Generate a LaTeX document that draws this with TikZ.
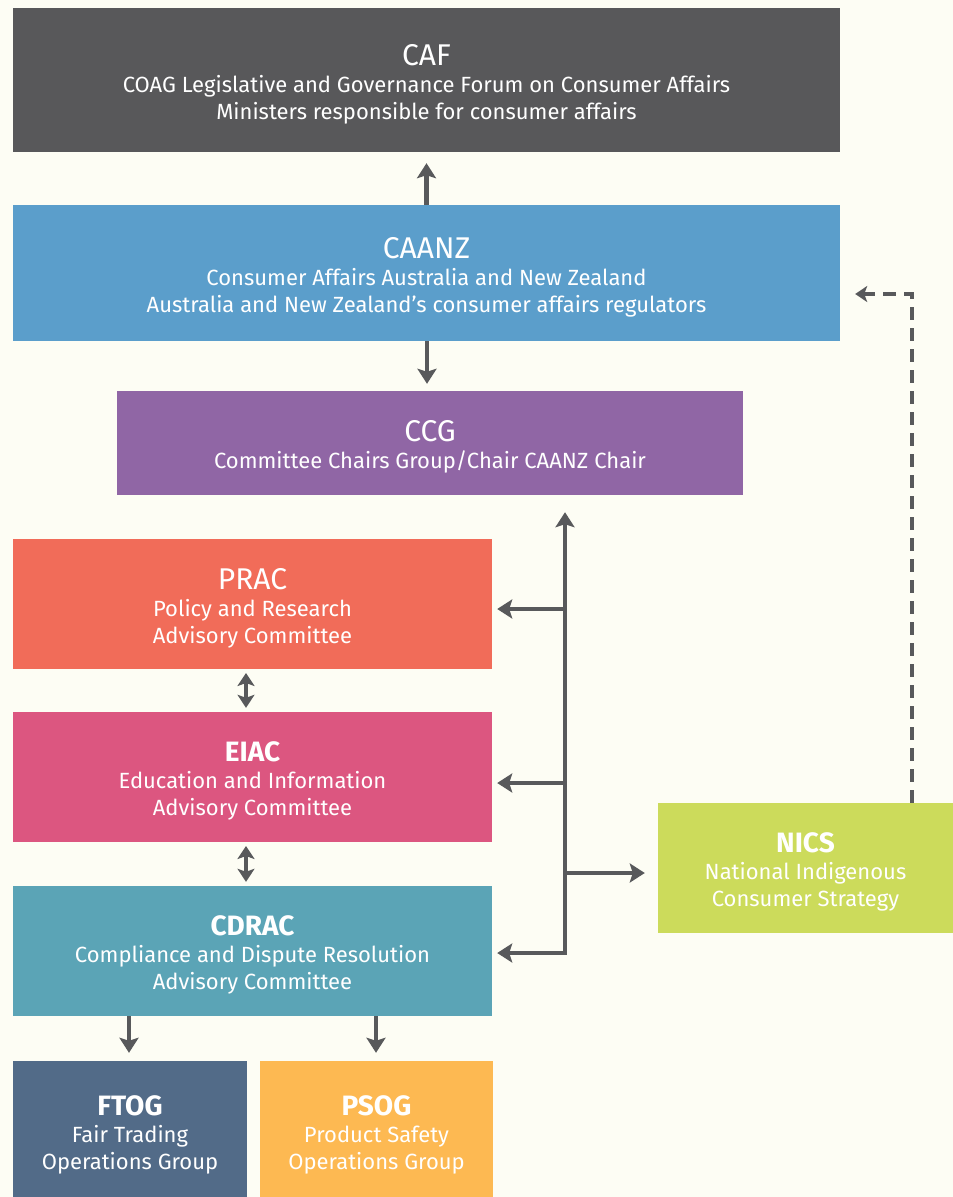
\documentclass[tikz,border=0pt]{standalone}
\usepackage{fontspec}
\setmainfont{Fira Sans}
\usetikzlibrary{arrows.meta}
\definecolor{bg}{HTML}{FDFDF4}
\definecolor{cafc}{HTML}{58585A}
\definecolor{caanzc}{HTML}{5B9ECB}
\definecolor{ccgc}{HTML}{9066A5}
\definecolor{pracc}{HTML}{F16C59}
\definecolor{eiacc}{HTML}{DC5680}
\definecolor{cdracc}{HTML}{5BA4B6}
\definecolor{nicsc}{HTML}{CCDB5B}
\definecolor{ftogc}{HTML}{526B88}
\definecolor{psogc}{HTML}{FDB952}
\definecolor{arrc}{HTML}{58595B}
\begin{document}
\begin{tikzpicture}[x=1pt,y=-1pt,
  box/.style={rectangle, inner sep=0pt, text=white, align=center,
    font=\fontsize{22}{27}\selectfont},
  conn/.style={draw=arrc, line width=4.5pt, -{Stealth[length=15pt,width=19pt,inset=3pt]}, line join=miter},
  dconn/.style={draw=arrc, line width=4.5pt, {Stealth[length=13pt,width=17pt,inset=3pt]}-{Stealth[length=13pt,width=17pt,inset=3pt]}},
  dashconn/.style={draw=arrc, line width=4.5pt, dash pattern=on 13pt off 8pt, -{Stealth[length=12pt,width=16pt,inset=3pt]}}
]
\fill[bg] (0,0) rectangle (953,1197);
\useasboundingbox (0,0) rectangle (953,1197);

\newcommand{\Tr}[1]{{\fontsize{30}{28}\selectfont\rule{0pt}{29pt}#1}}
\newcommand{\Tb}[1]{{\fontsize{28}{28}\selectfont\bfseries\rule{0pt}{28.5pt}#1}}
\newcommand{\Tg}[1]{{\fontsize{28}{28}\selectfont\bfseries\rule{0pt}{32pt}#1}}

\node[box, fill=cafc, minimum width=827pt, minimum height=144pt] (caf) at (426.5,80)
  {\Tr{CAF}\\COAG Legislative and Governance Forum on Consumer Affairs\\Ministers responsible for consumer affairs};
\node[box, fill=caanzc, minimum width=827pt, minimum height=136pt] (caanz) at (426.5,273)
  {\Tr{CAANZ}\\Consumer Affairs Australia and New Zealand\\Australia and New Zealand’s consumer affairs regulators};
\node[box, fill=ccgc, minimum width=626pt, minimum height=104pt] (ccg) at (430,443)
  {\Tr{CCG}\\Committee Chairs Group/Chair CAANZ Chair};
\node[box, fill=pracc, minimum width=479pt, minimum height=130pt] (prac) at (252.5,604)
  {\Tr{PRAC}\\Policy and Research\\Advisory Committee};
\node[box, fill=eiacc, minimum width=479pt, minimum height=130pt] (eiac) at (252.5,777)
  {\Tb{EIAC}\\Education and Information\\Advisory Committee};
\node[box, fill=cdracc, minimum width=479pt, minimum height=130pt] (cdrac) at (252.5,951)
  {\Tb{CDRAC}\\Compliance and Dispute Resolution\\Advisory Committee};
\node[box, fill=nicsc, minimum width=295pt, minimum height=130pt] (nics) at (805.5,868)
  {\Tb{NICS}\\National Indigenous\\Consumer Strategy};
\node[box, fill=ftogc, minimum width=234pt, minimum height=136pt] (ftog) at (130,1129)
  {\Tg{FTOG}\\Fair Trading\\Operations Group};
\node[box, fill=psogc, minimum width=233pt, minimum height=136pt] (psog) at (376.5,1129)
  {\Tg{PSOG}\\Product Safety\\Operations Group};

% vertical arrows
\draw[conn, shorten >=11pt] (caanz.north) -- (caf.south);
\coordinate (c2) at (427,341);
\draw[conn, shorten >=7pt] (c2) -- (c2 |- ccg.north);
\coordinate (d1) at (246,669);
\draw[dconn, shorten <=4pt, shorten >=4pt] (d1) -- (d1 |- eiac.north);
\coordinate (d2) at (246,842);
\draw[dconn, shorten <=4pt, shorten >=4pt] (d2) -- (d2 |- cdrac.north);
\coordinate (f1) at (129,1016);
\draw[conn, shorten >=8pt] (f1) -- (f1 |- ftog.north);
\coordinate (f2) at (376,1016);
\draw[conn, shorten >=8pt] (f2) -- (f2 |- psog.north);

% bus
\coordinate (bb) at (565,953);
\coordinate (b1) at (565,609);
\coordinate (b2) at (565,783);
\coordinate (b3) at (565,873);
\draw[draw=arrc, line width=4.5pt, line join=miter,
  {Stealth[length=15pt,width=19pt,inset=3pt]}-{Stealth[length=15pt,width=19pt,inset=3pt]},
  shorten <=5pt, shorten >=17pt] (bb -| cdrac.east) -- (bb) -- (bb |- ccg.south);
\draw[conn, shorten >=5pt] (b1) -- (b1 -| prac.east);
\draw[conn, shorten >=5pt] (b2) -- (b2 -| eiac.east);
\draw[conn, shorten >=13pt] (b3) -- (b3 -| nics.west);

% dashed
\coordinate (dc) at (912,294);
\draw[dashconn, shorten >=15pt] (dc |- nics.north) -- (dc) -- (dc -| caanz.east);
\end{tikzpicture}
\end{document}
